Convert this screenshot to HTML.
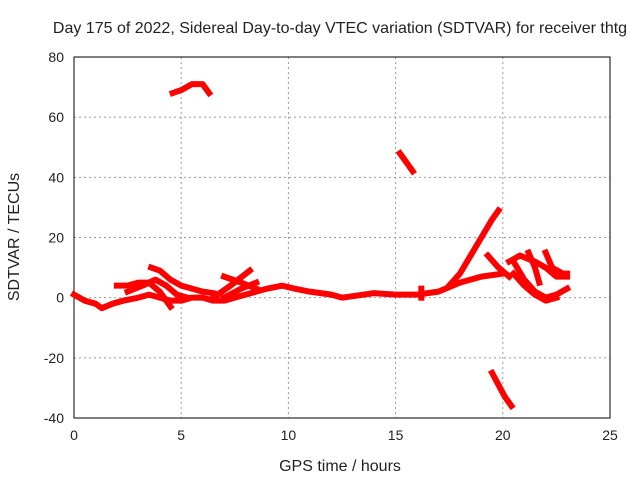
<!DOCTYPE html>
<html><head><meta charset="utf-8"><style>
body{margin:0;background:#fff;}
svg text{font-family:"Liberation Sans",sans-serif;font-size:14px;fill:#222;}
svg text.big{font-size:16px;}
</style></head><body>
<svg id="c" width="640" height="480"></svg>
<script>
const xTicks=[0,5,10,15,20,25];
const yTicks=[-40,-20,0,20,40,60,80];
const trackMain=[[0,1],[0.5,-1],[1,-2],[1.3,-3.5],[1.8,-2],[2.3,-1],[3,0],[3.5,1],[4,0],[4.5,-1],[5,-1],[5.5,0],[6,0],[6.5,-1],[7,-1],[7.5,0],[8,1],[8.5,2],[9,3],[9.7,4],[10.3,3],[11,2],[12,1],[12.5,0],[13,0.5],[14,1.5],[15,1],[16,1],[17,2],[18,5],[19,7],[20,8]];
const trackB=[[2,4],[2.5,4],[3,5],[3.5,5],[4,2],[4.3,-1],[4.5,-3]];
const trackB2=[[2.5,2],[3.2,4],[3.8,6],[4.3,4],[4.8,1],[5.3,0]];
const trackC=[[3.6,10],[4,9],[4.5,6],[5,4],[5.5,3],[6,2],[6.5,1.5]];
const trackX1=[[6.5,0],[7.3,4],[8.2,9]];
const trackX2=[[7,7],[7.8,5],[8.5,3]];
const trackX3=[[7,0],[7.8,3],[8.5,5]];
const trackRise=[[17.5,4],[18,8],[18.5,14],[19,20],[19.5,26],[19.8,29]];
const trackR1=[[19.3,14],[19.8,10],[20.3,7]];
const trackR2=[[20.3,12],[20.8,14],[21.5,12],[22,10],[22.5,7],[23,7]];
const trackR3=[[20.5,12],[21,6],[21.5,2],[22,0],[22.5,1],[23,3]];
const trackR4=[[21.2,15],[21.5,10],[21.7,5]];
const trackR5=[[22,15],[22.3,10],[22.8,8],[23,8]];
const trackR6=[[20.5,8],[21,4],[21.5,1],[22,-1],[22.5,0]];
const trackTop=[[4.6,68],[5,69],[5.5,71],[6,71],[6.3,68]];
const trackMid=[[15.2,48],[15.5,45],[15.8,42]];
const trackNeg=[[19.5,-25],[19.8,-29],[20.1,-33],[20.4,-36]];
const trackShort=[[16.2,0],[16.2,3]];
const tracks=[trackMain,trackB,trackB2,trackC,trackX1,trackX2,trackX3,trackRise,trackR1,trackR2,trackR3,trackR4,trackR5,trackR6,trackTop,trackMid,trackNeg,trackShort];

const L=74,R=610,T=57,B=418;
const xs=v=>L+(v-0)/25*(R-L);
const ys=v=>B-(v+40)/120*(B-T);
const svg=document.getElementById('c');
const NS='http://www.w3.org/2000/svg';
function mk(t,a){const e=document.createElementNS(NS,t);for(const k in a)e.setAttribute(k,a[k]);svg.appendChild(e);return e;}
xTicks.forEach(v=>{
  if(v>0&&v<25){const g=mk('line',{x1:xs(v),x2:xs(v),y1:T,y2:B,stroke:'#999','stroke-dasharray':'2,3'});
  
  }
  const t=mk('text',{x:xs(v),y:B+22,'text-anchor':'middle'});t.textContent=v;
  
  
});
yTicks.forEach(v=>{
  if(v>-40&&v<80){const g=mk('line',{x1:L,x2:R,y1:ys(v),y2:ys(v),stroke:'#999','stroke-dasharray':'2,3'});
  
  }
  const t=mk('text',{x:L-10,y:ys(v)+5,'text-anchor':'end'});t.textContent=v;
  
  
});
const fr=mk('rect',{x:L,y:T,width:R-L,height:B-T,fill:'none',stroke:'#000'});


tracks.forEach(tr=>{
  const p=mk('polyline',{points:tr.map(d=>xs(d[0])+','+ys(d[1])).join(' '),fill:'none',stroke:'#f00','stroke-width':6,'stroke-linejoin':'round','stroke-linecap':'square'});
  
  
});
const tt=mk('text',{x:340,y:33,'text-anchor':'middle','class':'big'});tt.textContent='Day 175 of 2022, Sidereal Day-to-day VTEC variation (SDTVAR) for receiver thtg';


const xt=mk('text',{x:340,y:471,'text-anchor':'middle','class':'big'});xt.textContent='GPS time / hours';


const yt=mk('text',{x:19,y:237,'text-anchor':'middle','class':'big',transform:'rotate(-90 19 237)'});yt.textContent='SDTVAR / TECUs';


</script>
</body></html>
